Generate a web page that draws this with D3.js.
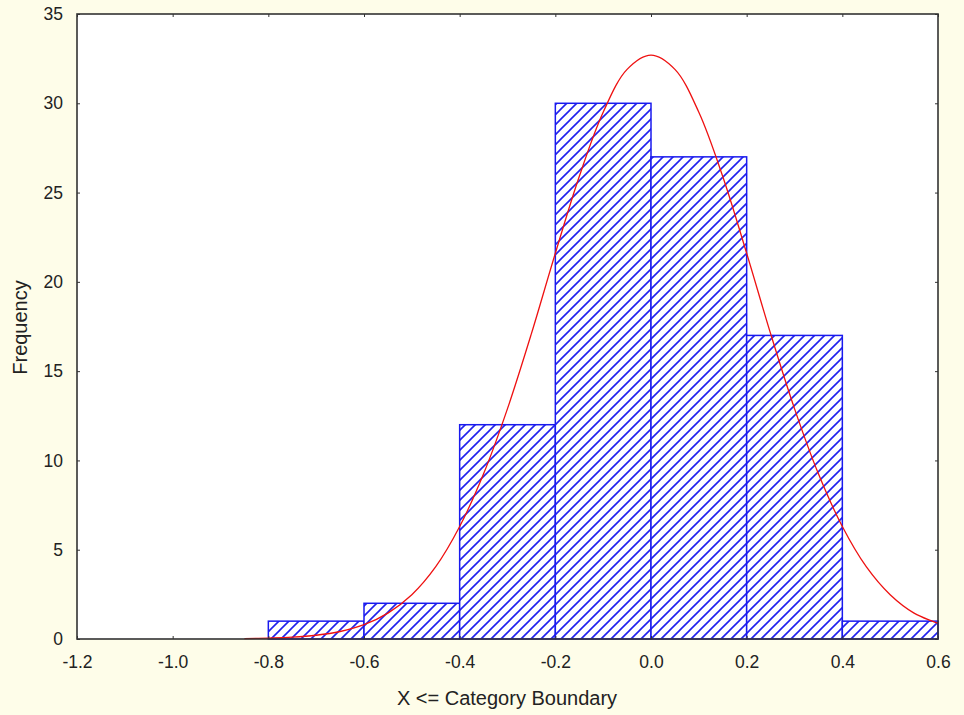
<!DOCTYPE html>
<html><head><meta charset="utf-8">
<script src="https://cdn.jsdelivr.net/npm/d3@7/dist/d3.min.js"></script>
<style>body{margin:0;background:#fefde9;}svg{display:block;}</style>
</head><body>
<svg id="c" width="964" height="715"></svg>
<script>
// Histogram bins (lower edge, upper edge) and frequencies
const binStarts = [-0.8, -0.6, -0.4, -0.2, 0.0, 0.2, 0.4];
const binEnds   = [-0.6, -0.4, -0.2, 0.0, 0.2, 0.4, 0.6];
const counts    = [1, 2, 12, 30, 27, 17, 1];
// Fitted curve points
const curveX = [-0.85,-0.80,-0.75,-0.70,-0.65,-0.60,-0.55,-0.50,-0.45,-0.40,-0.35,-0.30,-0.25,-0.20,-0.15,-0.10,-0.05,0.00,0.05,0.10,0.15,0.20,0.25,0.30,0.35,0.40,0.45,0.50,0.55,0.60];
const curveY = [0.02,0.05,0.10,0.21,0.42,0.80,1.45,2.48,4.05,6.30,9.25,12.9,17.1,21.6,25.9,29.5,31.9,32.7,31.9,29.5,25.9,21.6,17.1,12.9,9.25,6.30,4.05,2.48,1.45,0.88];
const xTicks = [-1.2,-1.0,-0.8,-0.6,-0.4,-0.2,0.0,0.2,0.4,0.6];
const yTicks = [0,5,10,15,20,25,30,35];

const svg = d3.select("#c");
const L = 77, R = 938, T = 14, B = 639;
const x = d3.scaleLinear().domain([-1.2, 0.6]).range([L, R]);
const y = d3.scaleLinear().domain([0, 35]).range([B, T]);

const defs = svg.append("defs");
const pat = defs.append("pattern").attr("id","hatch").attr("patternUnits","userSpaceOnUse")
  .attr("width",10).attr("height",10);
pat.append("rect").attr("width",10).attr("height",10).attr("fill","#ffffff");
pat.append("path").attr("d","M-2,12 L12,-2 M-7,7 L7,-7 M3,17 L17,3")
  .attr("stroke","#2020ee").attr("stroke-width",1.6);

svg.append("rect").attr("x",L).attr("y",T).attr("width",R-L).attr("height",B-T).attr("fill","#ffffff");

const font = "'Liberation Sans', Arial, sans-serif";
const fmt = d => d3.format(".1f")(d).replace("\u2212","-");

// bars
svg.append("g").selectAll("rect").data(counts).join("rect")
  .attr("x",(d,i)=>x(binStarts[i]))
  .attr("y",d=>y(d))
  .attr("width",(d,i)=>x(binEnds[i])-x(binStarts[i]))
  .attr("height",d=>y(0)-y(d))
  .attr("fill","url(#hatch)")
  .attr("stroke","#1a1aee").attr("stroke-width",1.5);

// curve
const pts = curveX.map((v,i)=>[v,curveY[i]]);
svg.append("path").datum(pts)
  .attr("d", d3.line().x(d=>x(d[0])).y(d=>y(d[1])).curve(d3.curveCatmullRom))
  .attr("fill","none").attr("stroke","#ee1111").attr("stroke-width",1.3);

// axes
const xa = svg.append("g").attr("transform",`translate(0,${B})`)
  .call(d3.axisBottom(x).tickValues(xTicks).tickSize(-3).tickPadding(17).tickFormat(fmt));
const xt = svg.append("g").attr("transform",`translate(0,${T})`)
  .call(d3.axisTop(x).tickValues(xTicks).tickSize(-3).tickFormat(""));
const ya = svg.append("g").attr("transform",`translate(${L},0)`)
  .call(d3.axisLeft(y).tickValues(yTicks).tickSize(-3).tickPadding(14).tickFormat(d3.format("d")));
const yr = svg.append("g").attr("transform",`translate(${R},0)`)
  .call(d3.axisRight(y).tickValues(yTicks).tickSize(-3).tickFormat(""));
[xa,xt,ya,yr].forEach(g=>{
  g.select(".domain").remove();
  g.selectAll(".tick line").attr("stroke","#333").attr("stroke-width",1);
  g.selectAll("text").attr("font-family",font).attr("font-size",17.5).attr("fill","#222");
});

// frame
svg.append("rect").attr("x",L).attr("y",T).attr("width",R-L).attr("height",B-T)
  .attr("fill","none").attr("stroke","#333").attr("stroke-width",1.6);

svg.append("text").attr("x",507).attr("y",705).attr("text-anchor","middle")
  .attr("font-family",font).attr("font-size",20).attr("fill","#222").text("X <= Category Boundary");
svg.append("text").attr("transform",`translate(27,${(T+B)/2+1}) rotate(-90)`).attr("text-anchor","middle")
  .attr("font-family",font).attr("font-size",20).attr("fill","#222").text("Frequency");
</script>
</body></html>
